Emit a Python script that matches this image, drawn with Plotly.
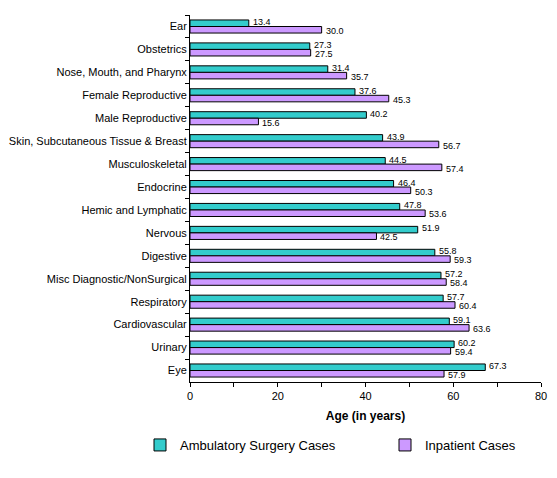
import plotly.graph_objects as go

categories = ["Ear", "Obstetrics", "Nose, Mouth, and Pharynx", "Female Reproductive",
              "Male Reproductive", "Skin, Subcutaneous Tissue & Breast", "Musculoskeletal",
              "Endocrine", "Hemic and Lymphatic", "Nervous", "Digestive",
              "Misc Diagnostic/NonSurgical", "Respiratory", "Cardiovascular", "Urinary", "Eye"]
ambulatory = [13.4, 27.3, 31.4, 37.6, 40.2, 43.9, 44.5, 46.4, 47.8, 51.9, 55.8, 57.2, 57.7, 59.1, 60.2, 67.3]
inpatient = [30.0, 27.5, 35.7, 45.3, 15.6, 56.7, 57.4, 50.3, 53.6, 42.5, 59.3, 58.4, 60.4, 63.6, 59.4, 57.9]
x_ticks = [0, 20, 40, 60, 80]

FONT = "Liberation Sans, Arial, sans-serif"

fig = go.Figure()
fig.add_trace(go.Bar(
    y=categories, x=ambulatory, orientation="h", name="Ambulatory Surgery Cases",
    marker=dict(color="#33CCCC", line=dict(color="black", width=1)),
    legend="legend",
))
fig.add_trace(go.Bar(
    y=categories, x=inpatient, orientation="h", name="Inpatient Cases",
    marker=dict(color="#CC99FF", line=dict(color="black", width=1)),
    legend="legend2",
))

annotations = []
for cat, a, b in zip(categories, ambulatory, inpatient):
    annotations.append(dict(x=a, y=cat, text=f"{a:.1f}", showarrow=False, xanchor="left",
                            yanchor="middle", xshift=2, yshift=4.5,
                            font=dict(family=FONT, size=9, color="black")))
    annotations.append(dict(x=b, y=cat, text=f"{b:.1f}", showarrow=False, xanchor="left",
                            yanchor="middle", xshift=2, yshift=-4.5,
                            font=dict(family=FONT, size=9, color="black")))

fig.update_layout(
    width=557, height=478,
    margin=dict(l=190, r=16, t=15, b=96, autoexpand=False),
    paper_bgcolor="white", plot_bgcolor="white",
    barmode="group", bargap=0.43, bargroupgap=0,
    font=dict(family=FONT, size=11, color="black"),
    showlegend=True,
    annotations=annotations,
    legend=dict(xref="container", yref="container",
                x=140 / 557, xanchor="left", y=1 - 445 / 478, yanchor="middle",
                font=dict(family=FONT, size=13, color="black")),
    legend2=dict(xref="container", yref="container",
                 x=385 / 557, xanchor="left", y=1 - 445 / 478, yanchor="middle",
                 font=dict(family=FONT, size=13, color="black")),
    xaxis=dict(range=[0, 80], tickvals=x_ticks, ticks="outside", ticklen=4,
               showline=True, linecolor="black", linewidth=1, showgrid=False, zeroline=False,
               minor=dict(dtick=10, ticks="outside", ticklen=4, tickcolor="black", showgrid=False),
               tickcolor="black", tickfont=dict(size=11), automargin=False,
               title=dict(text="<b>Age (in years)</b>", font=dict(size=12), standoff=10)),
    yaxis=dict(autorange="reversed", ticks="outside", ticklen=4, tickson="boundaries",
               showline=True, linecolor="black", linewidth=1, showgrid=False,
               tickcolor="black", tickfont=dict(size=11), automargin=False),
)

fig.write_html("out.html", config={"displayModeBar": False},
               post_script="document.body.style.margin='0';document.body.style.overflow='hidden';")
